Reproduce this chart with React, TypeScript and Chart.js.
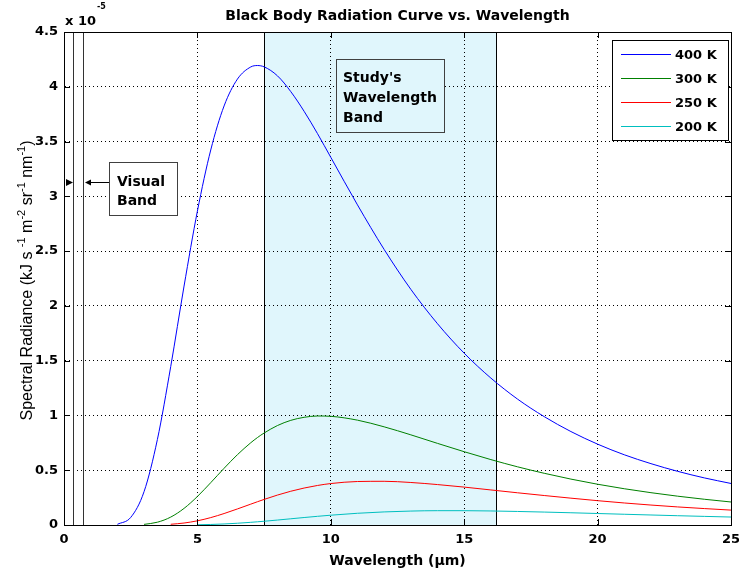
import React, { useEffect, useRef } from "react";
import { Chart, registerables } from "chart.js";

Chart.register(...registerables);

// ---- Data (radiance in units of 1e-5 kJ s^-1 m^-2 sr^-1 nm^-1) ----
const wavelengths = [2, 2.5, 3, 3.5, 4, 4.5, 5, 5.5, 6, 6.5, 7, 7.25, 7.5, 8, 8.5, 9, 9.5, 10, 11, 12, 13, 14, 15, 16, 17, 18, 19, 20, 21, 22, 23, 24, 25];
const radiance400 = [0.006, 0.069, 0.304, 0.78, 1.446, 2.181, 2.865, 3.423, 3.825, 4.07, 4.181, 4.194, 4.182, 4.1, 3.956, 3.776, 3.573, 3.356, 2.922, 2.515, 2.151, 1.837, 1.568, 1.341, 1.149, 0.989, 0.853, 0.738, 0.641, 0.56, 0.49, 0.43, 0.379];
const radiance300 = [null, null, 0.0056, 0.0254, 0.0722, 0.1517, 0.2602, 0.3865, 0.5176, 0.6418, 0.7507, 0.798, 0.8396, 0.9078, 0.9552, 0.983, 0.995, 0.992, 0.957, 0.896, 0.823, 0.745, 0.669, 0.597, 0.531, 0.472, 0.419, 0.372, 0.331, 0.295, 0.263, 0.235, 0.21];
const radiance250 = [null, null, null, null, 0.0066, 0.018, 0.0382, 0.0676, 0.1046, 0.1466, 0.1904, 0.2123, 0.2334, 0.2732, 0.3081, 0.3374, 0.3608, 0.3784, 0.397, 0.399, 0.388, 0.369, 0.346, 0.32, 0.294, 0.269, 0.245, 0.222, 0.201, 0.182, 0.165, 0.15, 0.136];
const radiance200 = [null, null, null, null, null, null, 0.0022, 0.0049, 0.0095, 0.016, 0.0244, 0.0292, 0.0343, 0.0452, 0.0567, 0.0682, 0.0792, 0.0895, 0.107, 0.1195, 0.1272, 0.1307, 0.1307, 0.1281, 0.1236, 0.118, 0.1117, 0.1049, 0.098, 0.0913, 0.0848, 0.0786, 0.0727];

const seriesLabels = ["400 K", "300 K", "250 K", "200 K"];
const seriesColors = ["#0000ff", "#008000", "#ff0000", "#00bfbf"];
const seriesValues = [radiance400, radiance300, radiance250, radiance200];

const xTicks = [0, 5, 10, 15, 20, 25];
const yTicks = [0, 0.5, 1, 1.5, 2, 2.5, 3, 3.5, 4, 4.5];

const studyBand = [7.5, 16.2];
const visualBand = [0.35, 0.7];

const titleText = "Black Body Radiation Curve vs. Wavelength";
const xTitleText = "Wavelength (\u00b5m)";
const yTitleParts: [string, boolean][] = [
  ["Spectral Radiance (kJ s ", false],
  ["-1", true],
  [" m", false],
  ["-2", true],
  [" sr", false],
  ["-1", true],
  [" nm", false],
  ["-1", true],
  [")", false],
];
const exponentBase = "x 10";
const exponentPower = "-5";
const studyLabelLines = ["Study's", "Wavelength", "Band"];
const visualLabelLines = ["Visual", "Band"];

const BAND_FILL = "#e0f6fc";
const BOLD = '"DejaVu Sans", sans-serif';

function al(v: number) {
  return Math.round(v) + 0.5;
}

const decorPlugin = {
  id: "decor",
  beforeDraw(chart: any) {
    const { ctx, chartArea: a, scales } = chart;
    const x = scales.x;
    ctx.save();
    ctx.fillStyle = "#ffffff";
    ctx.fillRect(0, 0, chart.width, chart.height);
    const x1 = Math.round(x.getPixelForValue(studyBand[0]));
    const x2 = Math.round(x.getPixelForValue(studyBand[1]));
    ctx.fillStyle = BAND_FILL;
    ctx.fillRect(x1, a.top, x2 - x1, a.bottom - a.top);
    ctx.restore();
  },
  beforeDatasetsDraw(chart: any) {
    const { ctx, chartArea: a, scales } = chart;
    const x = scales.x;
    ctx.save();
    ctx.lineWidth = 1;
    ctx.strokeStyle = "#000000";
    for (const v of studyBand) {
      const px = al(x.getPixelForValue(v));
      ctx.beginPath();
      ctx.moveTo(px, a.top);
      ctx.lineTo(px, a.bottom);
      ctx.stroke();
    }
    ctx.strokeStyle = "#333333";
    for (const v of visualBand) {
      const px = al(x.getPixelForValue(v));
      ctx.beginPath();
      ctx.moveTo(px, a.top);
      ctx.lineTo(px, a.bottom);
      ctx.stroke();
    }
    ctx.restore();
  },
  afterDatasetsDraw(chart: any) {
    const { ctx, chartArea: a, scales } = chart;
    const x = scales.x;
    const y = scales.y;
    ctx.save();

    // plot box
    ctx.lineWidth = 1;
    ctx.strokeStyle = "#000000";
    ctx.strokeRect(al(a.left), al(a.top), Math.round(a.right) - Math.round(a.left), Math.round(a.bottom) - Math.round(a.top));

    // inner ticks
    const tl = 6;
    ctx.beginPath();
    for (const v of xTicks) {
      const px = al(x.getPixelForValue(v));
      ctx.moveTo(px, a.bottom);
      ctx.lineTo(px, a.bottom - tl);
      ctx.moveTo(px, a.top);
      ctx.lineTo(px, a.top + tl);
    }
    for (const v of yTicks) {
      const py = al(y.getPixelForValue(v));
      ctx.moveTo(a.left, py);
      ctx.lineTo(a.left + tl, py);
      ctx.moveTo(a.right, py);
      ctx.lineTo(a.right - tl, py);
    }
    ctx.stroke();

    // Study's wavelength band label box
    {
      const bx1 = Math.round(x.getPixelForValue(10.2));
      const bx2 = Math.round(x.getPixelForValue(14.25));
      const by1 = Math.round(y.getPixelForValue(4.25));
      const by2 = Math.round(y.getPixelForValue(3.585));
      ctx.fillStyle = BAND_FILL;
      ctx.fillRect(bx1, by1, bx2 - bx1, by2 - by1);
      ctx.strokeStyle = "#404040";
      ctx.strokeRect(bx1 + 0.5, by1 + 0.5, bx2 - bx1, by2 - by1);
      ctx.fillStyle = "#000000";
      ctx.font = "bold 14px " + BOLD;
      ctx.textAlign = "left";
      ctx.textBaseline = "alphabetic";
      studyLabelLines.forEach((t, i) => {
        ctx.fillText(t, bx1 + 7, by1 + 23 + i * 20);
      });
    }

    // Visual band label box + arrows
    {
      const bx1 = Math.round(x.getPixelForValue(1.68));
      const bx2 = Math.round(x.getPixelForValue(4.23));
      const by1 = Math.round(y.getPixelForValue(3.31));
      const by2 = Math.round(y.getPixelForValue(2.83));
      ctx.fillStyle = "#ffffff";
      ctx.fillRect(bx1, by1, bx2 - bx1, by2 - by1);
      ctx.strokeStyle = "#404040";
      ctx.strokeRect(bx1 + 0.5, by1 + 0.5, bx2 - bx1, by2 - by1);
      ctx.fillStyle = "#000000";
      ctx.font = "bold 14px " + BOLD;
      visualLabelLines.forEach((t, i) => {
        ctx.fillText(t, bx1 + 8, by1 + 24 + i * 19);
      });
      const ay = al(y.getPixelForValue(3.13));
      const tipR = Math.round(x.getPixelForValue(visualBand[1])) + 2;
      ctx.strokeStyle = "#000000";
      ctx.beginPath();
      ctx.moveTo(tipR + 4, ay);
      ctx.lineTo(bx1, ay);
      ctx.stroke();
      ctx.beginPath();
      ctx.moveTo(tipR, ay);
      ctx.lineTo(tipR + 6, ay - 3);
      ctx.lineTo(tipR + 6, ay + 3);
      ctx.closePath();
      ctx.fill();
      const tipL = Math.round(x.getPixelForValue(visualBand[0]));
      ctx.beginPath();
      ctx.moveTo(tipL, ay);
      ctx.lineTo(tipL - 7, ay - 3.5);
      ctx.lineTo(tipL - 7, ay + 3.5);
      ctx.closePath();
      ctx.fill();
    }

    // legend
    {
      const lw = 116;
      const lh = 100;
      const lx = Math.round(a.right) - 3 - lw;
      const ly = Math.round(a.top) + 8;
      ctx.fillStyle = "#ffffff";
      ctx.fillRect(lx, ly, lw, lh);
      ctx.strokeStyle = "#000000";
      ctx.strokeRect(lx + 0.5, ly + 0.5, lw, lh);
      ctx.font = "bold 13px " + BOLD;
      chart.data.datasets.forEach((ds: any, i: number) => {
        const ry = ly + 14 + i * 23.9;
        ctx.strokeStyle = ds.borderColor;
        ctx.lineWidth = 1;
        ctx.beginPath();
        ctx.moveTo(lx + 9, al(ry));
        ctx.lineTo(lx + 59, al(ry));
        ctx.stroke();
        ctx.fillStyle = "#000000";
        ctx.fillText(ds.label, lx + 63, ry + 5);
      });
    }

    // titles
    ctx.fillStyle = "#000000";
    ctx.textBaseline = "alphabetic";
    ctx.font = "bold 14px " + BOLD;
    ctx.textAlign = "center";
    ctx.fillText(titleText, (a.left + a.right) / 2, 19.5);
    ctx.fillText(xTitleText, (a.left + a.right) / 2, 565);

    ctx.textAlign = "left";
    ctx.font = "bold 13px " + BOLD;
    ctx.fillText(exponentBase, 65, 25);
    const ew = ctx.measureText(exponentBase).width;
    ctx.font = "bold 8px " + BOLD;
    ctx.fillText(exponentPower, 65 + ew + 1, 9);

    // rotated y title with superscripts
    const mainFont = '16px "Liberation Sans", Arial, sans-serif';
    const supFont = '11px "Liberation Sans", Arial, sans-serif';
    let total = 0;
    const widths: number[] = [];
    for (const [t, sup] of yTitleParts) {
      ctx.font = sup ? supFont : mainFont;
      const w = ctx.measureText(t).width;
      widths.push(w);
      total += w;
    }
    ctx.save();
    ctx.translate(32, (a.top + a.bottom) / 2 + 2);
    ctx.rotate(-Math.PI / 2);
    let cx = -total / 2;
    yTitleParts.forEach(([t, sup], i) => {
      ctx.font = sup ? supFont : mainFont;
      ctx.fillText(t, cx, sup ? -7 : 0);
      cx += widths[i];
    });
    ctx.restore();

    ctx.restore();
  },
};

export default function App() {
  const canvasRef = useRef<HTMLCanvasElement | null>(null);

  useEffect(() => {
    document.body.style.margin = "0";
    const canvas = canvasRef.current;
    if (!canvas) return;

    const datasets = seriesValues.map((vals, i) => ({
      label: seriesLabels[i],
      data: wavelengths
        .map((w, j) => ({ x: w, y: vals[j] }))
        .filter((p) => p.y !== null),
      borderColor: seriesColors[i],
      backgroundColor: seriesColors[i],
      borderWidth: 1,
      pointRadius: 0,
      fill: false,
      cubicInterpolationMode: "monotone" as const,
    }));

    const chart = new Chart(canvas, {
      type: "line",
      data: { datasets },
      plugins: [decorPlugin],
      options: {
        animation: false,
        responsive: true,
        maintainAspectRatio: false,
        layout: { padding: { left: 0, right: 8, top: 32, bottom: 0 } },
        plugins: {
          legend: { display: false },
          title: { display: false },
          tooltip: { enabled: false },
        },
        scales: {
          x: {
            type: "linear",
            min: 0,
            max: 25,
            afterBuildTicks: (s: any) => {
              s.ticks = xTicks.map((v) => ({ value: v }));
            },
            afterFit: (s: any) => {
              s.height = 54;
              s.paddingLeft = 0;
              s.paddingRight = 0;
            },
            ticks: {
              autoSkip: false,
              maxRotation: 0,
              padding: 7,
              color: "#000000",
              font: { family: "DejaVu Sans", size: 13, weight: "bold" },
            },
            grid: { color: "#000000", lineWidth: 1, drawTicks: false },
            border: { display: true, color: "#000000", dash: [1, 3] },
          },
          y: {
            type: "linear",
            min: 0,
            max: 4.5,
            afterBuildTicks: (s: any) => {
              s.ticks = yTicks.map((v) => ({ value: v }));
            },
            afterFit: (s: any) => {
              s.width = 64;
              s.paddingTop = 0;
              s.paddingBottom = 0;
            },
            ticks: {
              padding: 6,
              color: "#000000",
              font: { family: "DejaVu Sans", size: 13, weight: "bold" },
              callback: (v: any) => String(v),
            },
            grid: { color: "#000000", lineWidth: 1, drawTicks: false },
            border: { display: true, color: "#000000", dash: [1, 3] },
          },
        },
      },
    });

    return () => {
      chart.destroy();
    };
  }, []);

  return (
    <div style={{ width: 739, height: 579, position: "relative" }}>
      <canvas ref={canvasRef} />
    </div>
  );
}
